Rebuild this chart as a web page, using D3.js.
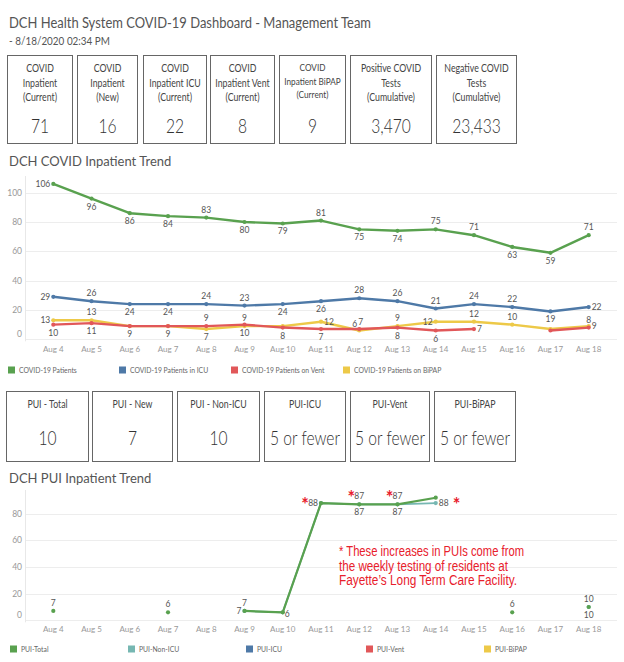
<!DOCTYPE html>
<html><head><meta charset="utf-8">
<script src="https://cdn.jsdelivr.net/npm/d3@7"></script>
<style>
body{margin:0;background:#fff;}
svg{display:block;font-family:Lato,"Noto Sans",sans-serif;}
</style>
</head><body>
<svg id="c" width="624" height="662"></svg>
<script>
// ---------- DATA ----------
const days = ["Aug 4","Aug 5","Aug 6","Aug 7","Aug 8","Aug 9","Aug 10","Aug 11","Aug 12","Aug 13","Aug 14","Aug 15","Aug 16","Aug 17","Aug 18"];
const covidPatients = [106,96,86,84,83,80,79,81,75,74,75,71,63,59,71];
const covidICU      = [29,26,24,24,24,23,24,26,28,26,21,24,22,19,22];
const covidVent     = [10,11,9,9,9,10,8,7,7,8,6,7,null,6,8];
const covidBiPAP    = [13,13,9,9,7,9,9,12,6,9,12,12,10,7,9];
const puiTotal  = [7,null,null,6,null,7,6,88,87,87,92,null,6,null,10];
const puiNonICU = [null,null,null,null,null,7,6,88,87,87,88,null,null,null,10];
const puiICU    = days.map(() => null);
const puiVent   = days.map(() => null);
const puiBiPAP  = days.map(() => null);
const yTicks1 = [0,20,40,60,80,100];
const yTicks2 = [0,20,40,60,80];
const kpiLabels = [["COVID","Inpatient","(Current)"],["COVID","Inpatient","(New)"],["COVID","Inpatient ICU","(Current)"],["COVID","Inpatient Vent","(Current)"],["COVID","Inpatient BiPAP","(Current)"],["Positive COVID","Tests","(Cumulative)"],["Negative COVID","Tests","(Cumulative)"]];
const kpiValues = ["71","16","22","8","9","3,470","23,433"];
const puiLabels = ["PUI - Total","PUI - New","PUI - Non-ICU","PUI-ICU","PUI-Vent","PUI-BiPAP"];
const puiValues = ["10","7","10","5 or fewer","5 or fewer","5 or fewer"];
const legend1 = ["COVID-19 Patients","COVID-19 Patients in ICU","COVID-19 Patients on Vent","COVID-19 Patients on BiPAP"];
const legend2 = ["PUI-Total","PUI-Non-ICU","PUI-ICU","PUI-Vent","PUI-BiPAP"];
const noteLines = ["* These increases in PUIs come from","the weekly testing of residents at","Fayette\u2019s Long Term Care Facility."];

// ---------- STYLE / LAYOUT ----------
const C = {green:"#59a14f", blue:"#4e79a7", red:"#e15759", yellow:"#edc948", teal:"#76b7b2"};
// label placement per point: a=above, b=below, l=left, r=right, ''=hidden
const place = {
  patients: ['l','b','b','b','a','b','b','a','b','b','a','a','b','b','a'],
  icu:      ['l','a','b','b','a','a','b','b','a','a','a','a','a','b','r'],
  vent:     ['b','b','b','b','a','b','b','b','ar','b','b','r','','','a'],
  bipap:    ['l','a','','','b','a','','r','al','a','l','a','a','','r'],
  total:    ['a','','','a','','a','br','l','a','a','','','a','','a'],
  nonicu:   ['','','','','','l','','','b','b','r','','','','b']
};

const svg = d3.select("#c");
// horizontally condense a text element (font is wider than the original)
function condense(sel, k){
  sel.each(function(){
    const w = this.getComputedTextLength();
    d3.select(this).attr("textLength", w*k).attr("lengthAdjust","spacingAndGlyphs");
  });
  return sel;
}

// Header
svg.append("text").attr("x",9).attr("y",28).attr("font-size",15.5).attr("fill","#555")
  .attr("textLength",362).attr("lengthAdjust","spacingAndGlyphs")
  .text("DCH Health System COVID-19 Dashboard - Management Team");
svg.append("text").attr("x",9).attr("y",45).attr("font-size",10.5).attr("fill","#555")
  .attr("textLength",101).attr("lengthAdjust","spacingAndGlyphs")
  .text("- 8/18/2020 02:34 PM");

// KPI boxes
const kpiX = [[7,72],[77,137],[143,206],[210,274],[279,345],[350,431],[436,516]];
kpiX.forEach((b,i) => {
  const g = svg.append("g");
  g.append("rect").attr("x",b[0]+0.5).attr("y",55.5).attr("width",b[1]-b[0]).attr("height",88)
    .attr("fill","none").attr("stroke","#666").attr("stroke-width",1);
  const cx = (b[0]+b[1])/2 + 0.5;
  kpiLabels[i].forEach((t,j) => {
    const tt = g.append("text").attr("x",cx).attr("y",(i===4?71:72)+j*(i===4?13.5:14.5)).attr("text-anchor","middle")
      .attr("font-size",i===4 ? 10 : 10.7).attr("fill","#444").text(t);
    condense(tt, 0.82);
  });
  const v = g.append("text").attr("x",cx).attr("y",133).attr("text-anchor","middle")
    .attr("font-size",19.5).attr("font-weight",300).attr("fill","#333").text(kpiValues[i]);
  condense(v, 0.8);
});

// PUI boxes
const puiX = [[6,88],[92,172],[177,259],[264,345],[350,429],[434,515]];
puiX.forEach((b,i) => {
  const g = svg.append("g");
  g.append("rect").attr("x",b[0]+0.5).attr("y",391.5).attr("width",b[1]-b[0]).attr("height",70)
    .attr("fill","none").attr("stroke","#666").attr("stroke-width",1);
  const cx = (b[0]+b[1])/2 + 0.5;
  const l = g.append("text").attr("x",cx).attr("y",408).attr("text-anchor","middle")
    .attr("font-size",10.7).attr("fill","#444").text(puiLabels[i]);
  condense(l, 0.82);
  const v = g.append("text").attr("x",cx).attr("y",445).attr("text-anchor","middle")
    .attr("font-size",19.5).attr("font-weight",300).attr("fill","#333").text(puiValues[i]);
  condense(v, 0.8);
});

// Shared x scale
const x = d3.scalePoint().domain(days).range([53.3,588.7]);

function drawChart(opts){
  const {title, titleY, y, ticks, top, xLabelY, series, legend, legendY, legendX} = opts;
  const g = svg.append("g");
  g.append("text").attr("x",9).attr("y",titleY).attr("font-size",13).attr("fill","#555").text(title);
  g.selectAll(".grid").data(ticks).join("line")
    .attr("x1",25).attr("x2",617).attr("y1",d=>Math.round(y(d))+0.5).attr("y2",d=>Math.round(y(d))+0.5)
    .attr("stroke","#ededed").attr("stroke-width",1);
  g.append("line").attr("x1",25.5).attr("x2",25.5).attr("y1",top).attr("y2",y(0)+2)
    .attr("stroke","#e8e8e8");
  g.selectAll(".yt").data(ticks).join("text")
    .attr("x",22).attr("y",d=> d===0 ? y(d)-2.5 : y(d)+3).attr("text-anchor","end")
    .attr("font-size",8.5).attr("fill","#999").text(d=>d);
  g.selectAll(".xt").data(days).join("text")
    .attr("x",d=>x(d)).attr("y",xLabelY).attr("text-anchor","middle")
    .attr("font-size",8).attr("fill","#999").text(d=>d);
  const line = d3.line().defined(d=>d.v!=null).x(d=>x(d.day)).y(d=>y(d.v));
  series.forEach(s => {
    const pts = days.map((day,i)=>({day, v:s.values[i], p:s.place[i]}));
    g.append("path").datum(pts).attr("d",line).attr("fill","none")
      .attr("stroke",s.color).attr("stroke-width",s.width).attr("stroke-linejoin","round");
    g.selectAll(null).data(pts.filter(d=>d.v!=null)).join("circle")
      .attr("cx",d=>x(d.day)).attr("cy",d=>y(d.v)).attr("r",2.1).attr("fill",s.color);
  });
  series.forEach(s => {
    const pts = days.map((day,i)=>({day, v:s.values[i], p:s.place[i]})).filter(d=>d.v!=null && d.p);
    pts.forEach(d => {
      const px = x(d.day), py = y(d.v);
      let tx = px, ty = py, anchor = "middle";
      if (d.p==='a'){ ty = py-5; }
      else if (d.p==='b'){ ty = py+11; }
      else if (d.p==='l'){ tx = px-3; ty = py+3; anchor="end"; }
      else if (d.p==='r'){ tx = px+3; ty = py+3; anchor="start"; }
      else if (d.p==='al'){ tx = px-2; ty = py-4; anchor="end"; }
      else if (d.p==='ar'){ tx = px-1; ty = py-4; anchor="start"; }
      else if (d.p==='br'){ tx = px+2; ty = py+5; anchor="start"; }
      g.append("text").attr("x",tx).attr("y",ty).attr("text-anchor",anchor)
        .attr("font-size",8.5).attr("fill","#555").text(d.v);
      if (s.star && s.star.includes(d.day)){
        let sx, sa;
        if (d.p==='r'){ sx = tx+14; sa="start"; } else if (d.p==='l'){ sx = tx-9; sa="end"; } else { sx = px-4; sa="end"; }
        g.append("text").attr("x",sx).attr("y",ty+5).attr("text-anchor",sa)
          .attr("font-size",18).attr("font-weight","bold").attr("fill","#e8202c").text("*");
      }
    });
  });
  legend.forEach((l,i) => {
    g.append("rect").attr("x",legendX[i]).attr("y",legendY-3.5).attr("width",7).attr("height",7).attr("fill",l.color);
    g.append("text").attr("x",legendX[i]+11).attr("y",legendY+2.5).attr("font-size",6.8).attr("fill","#666").text(l.name);
  });
}

drawChart({
  title:"DCH COVID Inpatient Trend", titleY:166, top:176,
  y: d3.scaleLinear().domain([0,100]).range([339.3,192.7]),
  ticks: yTicks1, xLabelY:352,
  series:[
    {values:covidPatients, color:C.green, place:place.patients, width:2.4},
    {values:covidICU, color:C.blue, place:place.icu, width:2.4},
    {values:covidBiPAP, color:C.yellow, place:place.bipap, width:2.4},
    {values:covidVent, color:C.red, place:place.vent, width:2.4}
  ],
  legend:[{name:legend1[0],color:C.green},{name:legend1[1],color:C.blue},{name:legend1[2],color:C.red},{name:legend1[3],color:C.yellow}],
  legendY:370, legendX:[8,119,231,343]
});

drawChart({
  title:"DCH PUI Inpatient Trend", titleY:483, top:490,
  y: d3.scaleLinear().domain([0,80]).range([620.3,513.7]),
  ticks: yTicks2, xLabelY:632,
  series:[
    {values:puiICU, color:C.blue, place:days.map(()=>''), width:2},
    {values:puiVent, color:C.red, place:days.map(()=>''), width:2},
    {values:puiBiPAP, color:C.yellow, place:days.map(()=>''), width:2},
    {values:puiNonICU, color:C.teal, place:place.nonicu, width:1.8, star:["Aug 14"]},
    {values:puiTotal, color:C.green, place:place.total, width:2.2, star:["Aug 11","Aug 12","Aug 13"]}
  ],
  legend:[{name:legend2[0],color:C.green},{name:legend2[1],color:C.teal},{name:legend2[2],color:C.blue},{name:legend2[3],color:C.red},{name:legend2[4],color:C.yellow}],
  legendY:649, legendX:[10,128,246,366,484]
});

// Annotation note
const noteW = [185,169,178];
noteLines.forEach((t,i) => {
  svg.append("text").attr("x",339).attr("y",556+i*14.5)
    .attr("font-family","'Liberation Sans',Arial,sans-serif")
    .attr("font-size",14).attr("fill","#e8202c")
    .attr("textLength",noteW[i]).attr("lengthAdjust","spacingAndGlyphs").text(t);
});
</script>
</body></html>
